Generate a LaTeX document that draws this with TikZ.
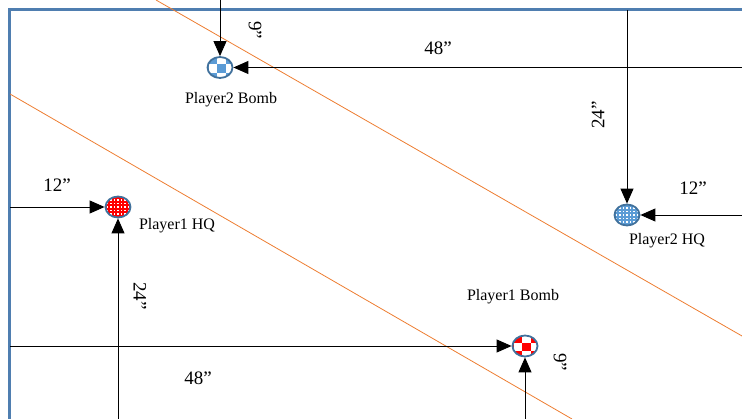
\documentclass[tikz,border=0pt]{standalone}
\usepackage{fontspec}
\setmainfont{Liberation Serif}
\usetikzlibrary{arrows.meta,shapes.geometric}
\definecolor{framecol}{HTML}{4F7EB0}
\definecolor{orangeln}{HTML}{ED7D31}
\definecolor{mkborder}{HTML}{41719C}
\definecolor{mkblue}{HTML}{5B9BD5}
\definecolor{mkred}{HTML}{FF0000}
\tikzset{
  conn/.style={line width=0.9pt, -{Triangle[length=15pt,width=13pt]}},
  numlbl/.style={font=\fontsize{19}{22}\selectfont, inner sep=0pt},
  namelbl/.style={font=\fontsize{16}{19}\selectfont, inner sep=0pt},
  marker/.style={ellipse, draw=mkborder, line width=1.8pt, minimum width=25pt, minimum height=21pt, inner sep=0pt},
  checker/.style={marker, fill=white, path picture={
    \foreach \i in {-2,...,1}{\foreach \j in {-2,...,1}{
      \pgfmathtruncatemacro\kk{mod(\i+\j+4,2)}
      \ifnum\kk=0
        \fill[#1] ([shift={(\i*8.5-3,\j*8.5-3)}]path picture bounding box.center) rectangle ++(8.5,8.5);
      \fi}}}},
  dotted/.style={marker, fill=#1, path picture={
    \foreach \i in {-4,...,4}{\foreach \j in {-3,...,3}{
      \fill[white] ([shift={(\i*3.5-0.6,\j*3.5-0.6)}]path picture bounding box.center) rectangle ++(1.3,1.3);
    }}}},
}
\begin{document}
\begin{tikzpicture}[x=1pt,y=-1pt]
\useasboundingbox (0,0) rectangle (742,419);
% frame
\draw[framecol, line width=3pt] (9.5,419) -- (9.5,9.5) -- (742,9.5);
% orange diagonals
\coordinate (o1a) at (156,0);
\coordinate (o1b) at (742,336);
\coordinate (o2a) at (10,94);
\coordinate (o2b) at (572,419);
\draw[orangeln, line width=0.8pt] (o1a) -- (o1b);
\draw[orangeln, line width=0.8pt] (o2a) -- (o2b);
% markers
\node[checker=mkblue] (p2b) at (220,67.5) {};
\node[dotted=mkblue] (p2hq) at (627,215) {};
\node[dotted=mkred] (p1hq) at (118,207) {};
\node[checker=mkred] (p1b) at (525,346) {};
% free ends
\coordinate (s1) at (220,0);
\coordinate (s2) at (742,67.5);
\coordinate (s3) at (627,10);
\coordinate (s4) at (742,215);
\coordinate (s5) at (10,207);
\coordinate (s6) at (118,419);
\coordinate (s7) at (10,346);
\coordinate (s8) at (525,419);
% connectors
\draw[conn] (s1) -- (p2b);
\draw[conn] (s2) -- (p2b);
\draw[conn] (s3) -- (p2hq);
\draw[conn] (s4) -- (p2hq);
\draw[conn] (s5) -- (p1hq);
\draw[conn] (s6) -- (p1hq);
\draw[conn] (s7) -- (p1b);
\draw[conn] (s8) -- (p1b);
% labels
\node[numlbl, rotate=-90] (l9a) at (255,30) {9”};
\node[numlbl] (l48a) at (438,48) {48”};
\node[numlbl, rotate=90] (l24a) at (598,115) {24”};
\node[numlbl] (l12a) at (693,188) {12”};
\node[namelbl] (n2b) at (231,100) {Player2 Bomb};
\node[namelbl] (n2hq) at (667,241) {Player2 HQ};
\node[numlbl] (l12b) at (57,185) {12”};
\node[namelbl] (n1hq) at (177,226) {Player1 HQ};
\node[numlbl, rotate=-90] (l24b) at (140,296) {24”};
\node[numlbl] (l48b) at (198,378) {48”};
\node[namelbl] (n1b) at (513,297) {Player1 Bomb};
\node[numlbl, rotate=-90] (l9b) at (560,362) {9”};
\end{tikzpicture}
\end{document}
